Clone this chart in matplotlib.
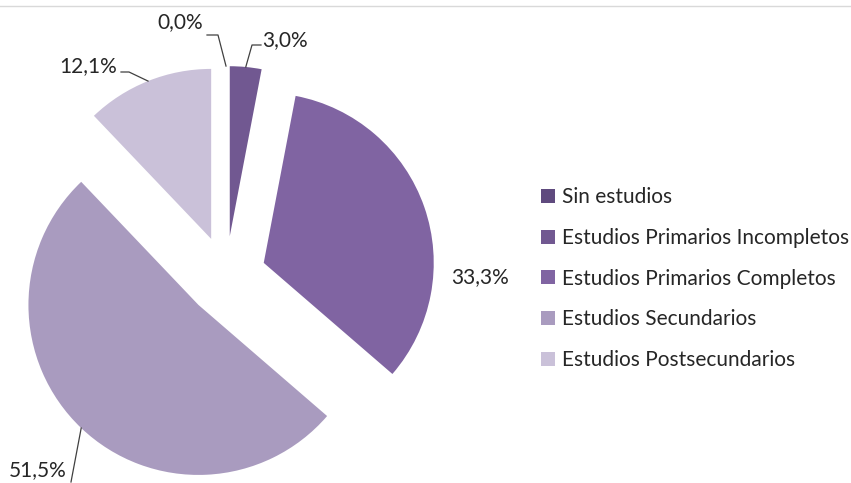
import numpy as np
import matplotlib.pyplot as plt
from matplotlib.patches import Patch

# Datos
categorias = ["Sin estudios", "Estudios Primarios Incompletos",
              "Estudios Primarios Completos", "Estudios Secundarios",
              "Estudios Postsecundarios"]
valores = [0.0, 3.0, 33.3, 51.5, 12.1]
etiquetas = ["0,0%", "3,0%", "33,3%", "51,5%", "12,1%"]
colores = ["#5f4a7e", "#715891", "#8064a2", "#a99bbf", "#cac1d9"]

plt.rcParams['font.family'] = ['Lato', 'DejaVu Sans']

fig = plt.figure(figsize=(8.51, 4.83), dpi=100)
ax = fig.add_axes([0, 0, 1, 1])

# 1 unidad = 170 px, centro del pastel en (226, 276) px
R = 170.0
cx, cy = 226.0, 276.0

wedges, _ = ax.pie(valores, colors=colores, startangle=90, counterclock=False,
                   explode=[0.235] * 5, radius=1.0, normalize=True,
                   wedgeprops=dict(linewidth=0))
ax.set_xlim(-cx / R, (851 - cx) / R)
ax.set_ylim(-(483 - cy) / R, cy / R)
ax.set_aspect('equal')
ax.axis('off')


def px(x, y):
    return (x - cx) / R, (cy - y) / R


# posición del texto, inicio del tramo horizontal, codo (en px)
layout = [
    ((180, 22), (207, 35), (218, 35)),
    ((285, 40), (261, 45), (252, 45)),
    ((480, 277), None, None),
    ((38, 470), (71, 482), (71, 482)),
    ((88, 66), (121, 72), (129, 72)),
]

for w, lab, (tpos, p0, p1) in zip(wedges, etiquetas, layout):
    tx, ty = px(*tpos)
    ax.text(tx, ty, lab, ha='center', va='center', fontsize=15, color='#262626')
    if p0 is None:
        continue
    ang = np.deg2rad((w.theta1 + w.theta2) / 2)
    tipx = w.center[0] + w.r * np.cos(ang)
    tipy = w.center[1] + w.r * np.sin(ang)
    a, b = px(*p0)
    c, d = px(*p1)
    ax.plot([a, c, tipx], [b, d, tipy], color='#404040', lw=0.9)

handles = [Patch(facecolor=col, edgecolor='none') for col in colores]
fig.legend(handles, categorias, loc='upper left',
           bbox_to_anchor=(531 / 851, 1 - 177 / 483), frameon=False,
           fontsize=15, handlelength=0.65, handleheight=0.65,
           handletextpad=0.35, labelspacing=0.99, borderpad=0,
           labelcolor='#262626')

# linea gris superior
fig.add_artist(plt.Line2D([0, 1], [1 - 6 / 483, 1 - 6 / 483], color='#d9d9d9', lw=1))

fig.savefig("out.png", dpi=100)
